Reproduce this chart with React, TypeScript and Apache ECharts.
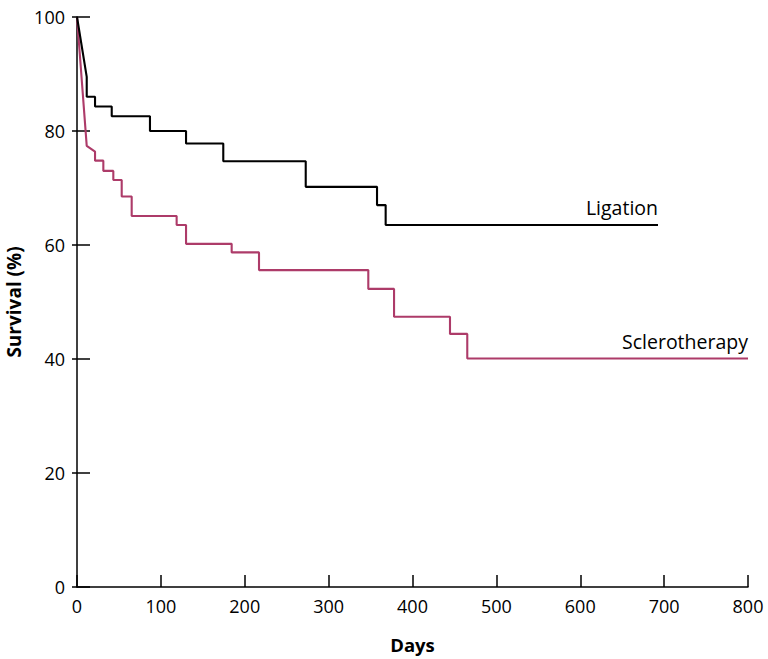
import React, { useEffect, useRef } from "react";
import * as echarts from "echarts";

// Ligation: [day, survival %] vertices of the Kaplan-Meier curve
const ligationDays = [0, 11.6, 11.6, 21.5, 21.5, 41.4, 41.4, 87, 87, 130, 130, 174.4, 174.4, 272.7, 272.7, 357.7, 357.7, 368, 368, 692.7];
const ligationSurvival = [100, 89.5, 86, 86, 84.3, 84.3, 82.6, 82.6, 80, 80, 77.8, 77.8, 74.7, 74.7, 70.2, 70.2, 67, 67, 63.5, 63.5];

const scleroDays = [0, 11.6, 21.5, 21.5, 31.4, 31.4, 43.3, 43.3, 53.3, 53.3, 65.2, 65.2, 118.8, 118.8, 130, 130, 184.4, 184.4, 217, 217, 347.3, 347.3, 378, 378, 444.7, 444.7, 465.3, 465.3, 800];
const scleroSurvival = [100, 77.4, 76.4, 74.8, 74.8, 73.0, 73.0, 71.4, 71.4, 68.5, 68.5, 65.1, 65.1, 63.5, 63.5, 60.2, 60.2, 58.7, 58.7, 55.6, 55.6, 52.3, 52.3, 47.4, 47.4, 44.4, 44.4, 40.1, 40.1];

const xTicks = [0, 100, 200, 300, 400, 500, 600, 700, 800];
const yTicks = [0, 20, 40, 60, 80, 100];

const seriesNames = ["Ligation", "Sclerotherapy"];
const colors = ["#000000", "#ad3b69"];

const FONT = "'Open Sans', 'Noto Sans', sans-serif";

export default function App() {
  const ref = useRef<HTMLDivElement>(null);
  useEffect(() => {
    if (!ref.current) return;
    const chart = echarts.init(ref.current, undefined, { renderer: "svg" });
    const lig = ligationDays.map((d, i) => [d, ligationSurvival[i]]);
    const scl = scleroDays.map((d, i) => [d, scleroSurvival[i]]);
    const yAxisBase = {
      type: "value",
      min: yTicks[0],
      max: yTicks[yTicks.length - 1],
      interval: 20,
      splitLine: { show: false },
    };
    chart.setOption({
      animation: false,
      backgroundColor: "#ffffff",
      grid: { left: 77, right: 20, top: 17, bottom: 72, outerBoundsMode: "none", containLabel: false },
      xAxis: {
        type: "value",
        min: xTicks[0],
        max: xTicks[xTicks.length - 1],
        interval: 100,
        name: "Days",
        nameLocation: "middle",
        nameGap: 48,
        nameTextStyle: { fontFamily: FONT, fontSize: 18.5, fontWeight: "bold", color: "#000" },
        axisLine: { lineStyle: { color: "#000", width: 1.5 } },
        axisTick: { inside: true, length: 12, lineStyle: { color: "#000", width: 1.5 } },
        axisLabel: { fontFamily: FONT, fontSize: 18, color: "#000", margin: 10 },
        splitLine: { show: false },
      },
      yAxis: [
        {
          ...yAxisBase,
          name: "Survival (%)",
          nameLocation: "middle",
          nameGap: 48,
          nameTextStyle: { fontFamily: FONT, fontSize: 19, fontWeight: "bold", color: "#000" },
          axisLine: { show: true, lineStyle: { color: "#000", width: 1.5 } },
          axisTick: { show: true, inside: false, length: 5, lineStyle: { color: "#000", width: 1.5 } },
          axisLabel: { fontFamily: FONT, fontSize: 18, color: "#000", margin: 12 },
        },
        {
          ...yAxisBase,
          position: "left",
          axisLine: { show: false },
          axisTick: { show: true, inside: true, length: 13, lineStyle: { color: "#000", width: 1.5 } },
          axisLabel: { show: false },
        },
      ],
      series: [
        {
          name: seriesNames[0],
          type: "line",
          data: lig,
          showSymbol: false,
          symbol: "none",
          lineStyle: { color: colors[0], width: 2.1 },
          z: 3,
        },
        {
          name: seriesNames[1],
          type: "line",
          data: scl,
          showSymbol: false,
          symbol: "none",
          lineStyle: { color: colors[1], width: 2.1 },
          z: 2,
        },
      ],
    });
    const p1 = chart.convertToPixel({ gridIndex: 0 }, lig[lig.length - 1]) as number[];
    const p2 = chart.convertToPixel({ gridIndex: 0 }, scl[scl.length - 1]) as number[];
    chart.setOption({
      graphic: [
        {
          type: "text",
          x: p1[0],
          y: p1[1] - 8,
          style: { text: seriesNames[0], font: `19.5px ${FONT}`, fill: "#000", textAlign: "right", textVerticalAlign: "bottom" },
        },
        {
          type: "text",
          x: p2[0],
          y: p2[1] - 7,
          style: { text: seriesNames[1], font: `19.5px ${FONT}`, fill: "#000", textAlign: "right", textVerticalAlign: "bottom" },
        },
      ],
    });
    return () => chart.dispose();
  }, []);
  return <div ref={ref} style={{ width: 768, height: 659, position: "absolute", left: 0, top: 0 }} />;
}
